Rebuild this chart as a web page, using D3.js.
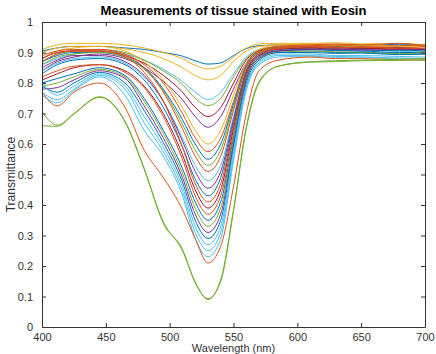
<!DOCTYPE html>
<html>
<head>
<meta charset="utf-8">
<script src="https://cdn.jsdelivr.net/npm/d3@7"></script>
<style>
  body { margin: 0; background: #fff; }
  svg { display: block; font-family: "Liberation Sans", Arial, sans-serif; }
</style>
</head>
<body>
<svg id="chart" width="436" height="354"></svg>
<script>
const wavelengths = [400, 412, 425, 445, 465, 480, 495, 510, 520, 530, 540, 550, 560, 570, 585, 610, 630, 650, 680, 700]

// transmittance per measurement
const s01 = [.905, .915, .92, .92, .915, .91, .90, .888, .873, .862, .866, .89, .913, .922, .925, .926, .924, .922, .927, .925]
const s02 = [.91, .925, .93, .93, .925, .915, .90, .88, .858, .846, .855, .885, .915, .928, .93, .93, .932, .928, .93, .925]
const s03 = [.88, .905, .915, .92, .912, .90, .88, .85, .825, .81, .825, .87, .905, .92, .925, .926, .922, .924, .92, .922]
const s04 = [.86, .88, .895, .905, .895, .875, .845, .805, .77, .746, .77, .83, .885, .91, .918, .92, .916, .918, .912, .91]
const s05 = [.87, .895, .905, .91, .90, .875, .84, .795, .75, .726, .75, .82, .88, .908, .918, .918, .92, .915, .917, .912]
const s06 = [.88, .90, .905, .905, .89, .865, .825, .77, .72, .69, .72, .80, .875, .905, .915, .918, .914, .915, .908, .91]
const s07 = [.84, .87, .885, .895, .88, .85, .805, .745, .69, .655, .69, .78, .865, .905, .915, .915, .917, .912, .914, .91]
const s08 = [.90, .915, .92, .92, .905, .87, .81, .72, .645, .60, .645, .76, .865, .91, .925, .928, .926, .925, .922, .92]
const s09 = [.89, .905, .91, .91, .895, .86, .80, .70, .62, .575, .62, .74, .86, .905, .92, .925, .928, .925, .93, .92]
const s10 = [.87, .89, .90, .90, .885, .85, .78, .68, .60, .55, .60, .73, .855, .90, .91, .91, .906, .905, .90, .90]
const s11 = [.86, .885, .895, .90, .885, .845, .775, .665, .58, .53, .58, .72, .85, .90, .915, .915, .912, .91, .906, .905]
const s12 = [.88, .90, .905, .905, .89, .85, .77, .65, .56, .51, .56, .71, .85, .90, .92, .922, .925, .92, .922, .925]
const s13 = [.84, .865, .88, .885, .865, .82, .74, .62, .53, .48, .53, .69, .84, .895, .91, .912, .908, .91, .903, .905]
const s14 = [.85, .875, .89, .89, .87, .825, .74, .61, .51, .455, .51, .68, .84, .895, .912, .915, .918, .912, .915, .91]
const s15 = [.83, .86, .875, .88, .86, .81, .72, .59, .485, .43, .49, .67, .835, .89, .905, .905, .90, .90, .897, .895]
const s16 = [.87, .895, .905, .905, .885, .835, .74, .59, .47, .41, .47, .66, .835, .895, .915, .92, .918, .918, .915, .92]
const s17 = [.81, .83, .85, .86, .84, .79, .70, .565, .45, .39, .45, .65, .83, .89, .91, .915, .91, .912, .914, .91]
const s18 = [.82, .84, .855, .86, .835, .785, .69, .55, .43, .37, .43, .635, .825, .885, .912, .918, .915, .918, .912, .915]
const s19 = [.80, .815, .83, .85, .825, .75, .645, .52, .41, .35, .41, .62, .82, .885, .905, .91, .907, .905, .908, .905]
const s20 = [.79, .80, .82, .845, .82, .74, .635, .505, .39, .33, .39, .61, .815, .88, .90, .905, .902, .90, .896, .90]
const s21 = [.78, .785, .81, .84, .815, .725, .62, .49, .37, .31, .37, .60, .81, .88, .905, .91, .912, .908, .91, .91]
const s22 = [.79, .77, .80, .835, .80, .71, .605, .475, .35, .29, .35, .59, .80, .875, .90, .90, .897, .898, .893, .895]
const s23 = [.80, .76, .79, .83, .79, .69, .59, .46, .33, .27, .33, .575, .79, .87, .895, .895, .89, .89, .887, .885]
const s24 = [.77, .745, .78, .825, .78, .67, .575, .445, .31, .25, .31, .56, .785, .865, .89, .89, .887, .885, .882, .88]
const s25 = [.76, .735, .775, .82, .76, .645, .56, .43, .29, .23, .29, .545, .775, .86, .885, .888, .884, .885, .879, .88]
const s26 = [.77, .725, .77, .80, .72, .58, .49, .385, .29, .21, .265, .46, .70, .84, .875, .885, .88, .88, .876, .875]
const s27 = [.705, .662, .70, .755, .675, .52, .34, .255, .145, .093, .15, .38, .65, .80, .855, .87, .873, .875, .878, .88]
const s28 = [.66, .658, .698, .753, .672, .518, .345, .25, .148, .09, .155, .385, .655, .805, .855, .868, .87, .873, .874, .876]

const measurements = [s01, s02, s03, s04, s05, s06, s07, s08, s09, s10, s11, s12, s13, s14,
  s15, s16, s17, s18, s19, s20, s21, s22, s23, s24, s25, s26, s27, s28]

const xTicks = [400, 450, 500, 550, 600, 650, 700]
const yTicks = [0, 0.1, 0.2, 0.3, 0.4, 0.5, 0.6, 0.7, 0.8, 0.9, 1]
const yTickLabels = ['0', '0.1', '0.2', '0.3', '0.4', '0.5', '0.6', '0.7', '0.8', '0.9', '1']

// matlab default line colours, picked per measurement
const matlab = {
  blue: '#0072BD', orange: '#D95319', yellow: '#EDB120', purple: '#7E2F8E',
  green: '#77AC30', lightblue: '#4DBEEE', darkred: '#A2142F',
}
const lineColors = ['blue', 'yellow', 'yellow', 'lightblue', 'green', 'darkred', 'purple',
  'yellow', 'orange', 'blue', 'green', 'orange', 'lightblue', 'purple', 'blue', 'orange',
  'darkred', 'orange', 'blue', 'green', 'purple', 'blue', 'lightblue', 'lightblue',
  'lightblue', 'orange', 'green', 'green']

const margin = { top: 22, right: 11, bottom: 27, left: 42 }
const svg = d3.select('#chart')
const width = +svg.attr('width')
const height = +svg.attr('height')

const x = d3.scaleLinear().domain([400, 700]).range([margin.left, width - margin.right])
const y = d3.scaleLinear().domain([0, 1]).range([height - margin.bottom, margin.top])

const line = d3
  .line()
  .x((d, i) => x(wavelengths[i]))
  .y((d) => y(d))
  .curve(d3.curveMonotoneX)

// Draw the spectra
svg
  .append('g')
  .selectAll('path')
  .data(measurements)
  .enter()
  .append('path')
  .attr('d', line)
  .attr('fill', 'none')
  .attr('stroke', (d, i) => matlab[lineColors[i]])
  .attr('stroke-width', 1)

const axisColor = '#333'

// box with inward ticks on all four sides
const axisBottomG = svg
  .append('g')
  .attr('transform', 'translate(0,' + y(0) + ')')
  .call(d3.axisBottom(x).tickValues(xTicks).tickSizeInner(-4).tickSizeOuter(0).tickPadding(6))
const axisTopG = svg
  .append('g')
  .attr('transform', 'translate(0,' + y(1) + ')')
  .call(d3.axisTop(x).tickValues(xTicks).tickSizeInner(-4).tickSizeOuter(0).tickFormat(''))
const axisLeftG = svg
  .append('g')
  .attr('transform', 'translate(' + x(400) + ',0)')
  .call(
    d3.axisLeft(y).tickValues(yTicks).tickSizeInner(-4).tickSizeOuter(0).tickPadding(9)
      .tickFormat((d, i) => yTickLabels[i])
  )
const axisRightG = svg
  .append('g')
  .attr('transform', 'translate(' + x(700) + ',0)')
  .call(d3.axisRight(y).tickValues(yTicks).tickSizeInner(-4).tickSizeOuter(0).tickFormat(''))

;[axisBottomG, axisTopG, axisLeftG, axisRightG].forEach((g) => {
  g.select('.domain').attr('stroke', axisColor)
  g.selectAll('.tick line').attr('stroke', axisColor)
  g.selectAll('.tick text')
    .attr('fill', axisColor)
    .style('font-size', '11px')
    .style('font-family', '"Liberation Sans", Arial, sans-serif')
})

// title and axis labels
svg
  .append('text')
  .attr('x', (x(400) + x(700)) / 2)
  .attr('y', 15)
  .attr('text-anchor', 'middle')
  .style('font-size', '13px')
  .style('font-weight', 'bold')
  .attr('fill', '#000')
  .text('Measurements of tissue stained with Eosin')

// the label sits right at the bottom edge, as in the original figure
svg
  .append('text')
  .attr('x', (x(400) + x(700)) / 2)
  .attr('y', 352)
  .attr('text-anchor', 'middle')
  .style('font-size', '11px')
  .attr('fill', axisColor)
  .text('Wavelength (nm)')

svg
  .append('text')
  .attr('transform', 'translate(15,' + (y(0) + y(1)) / 2 + ') rotate(-90)')
  .attr('text-anchor', 'middle')
  .style('font-size', '12px')
  .attr('fill', axisColor)
  .text('Transmittance')
</script>
</body>
</html>
